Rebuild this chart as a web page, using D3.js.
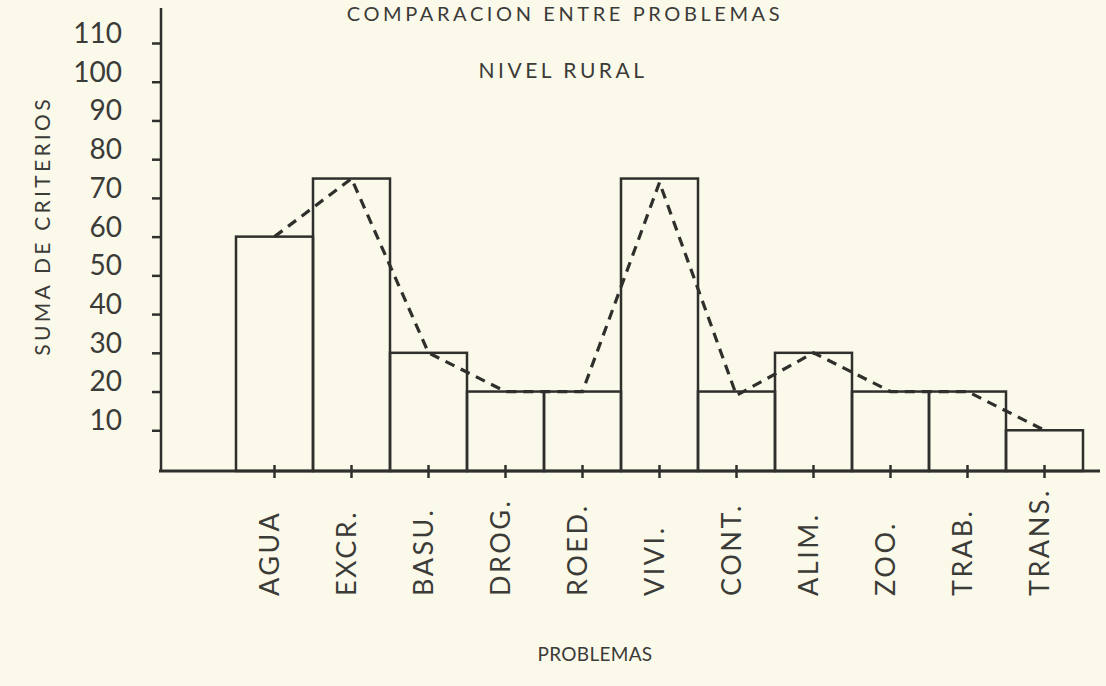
<!DOCTYPE html>
<html>
<head>
<meta charset="utf-8">
<script src="https://cdn.jsdelivr.net/npm/d3@7"></script>
<style>
  html, body { margin: 0; padding: 0; background: #fbf9ea; }
  svg { display: block; }
  text { font-family: Lato, "Open Sans", sans-serif; fill: #3b3b38; }
</style>
</head>
<body>
<svg id="chart" width="1106" height="686"></svg>
<script>
const categories = ["AGUA", "EXCR.", "BASU.", "DROG.", "ROED.", "VIVI.", "CONT.", "ALIM.", "ZOO.", "TRAB.", "TRANS."];
const barValues  = [60, 75, 30, 20, 20, 75, 20, 30, 20, 20, 10];
const lineValues = [60, 75, 30, 20, 20, 74, 19, 30, 20, 20, 10];
const yTickValues = [10, 20, 30, 40, 50, 60, 70, 80, 90, 100, 110];
const titleText = "COMPARACION ENTRE PROBLEMAS";
const subtitleText = "NIVEL RURAL";
const yTitle = "SUMA DE CRITERIOS";
const xTitle = "PROBLEMAS";

const ink = "#2f2f2c";
const svg = d3.select("#chart");

const x = d3.scaleBand().domain(categories).range([236, 1083]).padding(0);
const y = d3.scaleLinear().domain([0, 110]).range([469, 43]);

const axisX = 161, axisY = 471;

// Titles
svg.append("text").attr("x", 565).attr("y", 21).attr("text-anchor", "middle")
  .style("font-size", "20px").style("letter-spacing", "3.6px").text(titleText);
svg.append("text").attr("x", 563).attr("y", 78).attr("text-anchor", "middle")
  .style("font-size", "21px").style("letter-spacing", "3.5px").text(subtitleText);

// Y axis
const yAxis = d3.axisLeft(y).tickValues(yTickValues).tickSize(9).tickPadding(30);
const gy = svg.append("g").attr("transform", `translate(${axisX},0)`).call(yAxis);
gy.select(".domain").remove();
gy.selectAll(".tick line").attr("stroke", ink).attr("stroke-width", 2.5);
gy.selectAll(".tick text").attr("dy", "-0.02em")
  .style("font-size", "28px").style("font-family", "Lato, sans-serif").attr("fill", "#3b3b38");
svg.append("line").attr("x1", axisX).attr("x2", axisX).attr("y1", 8).attr("y2", axisY + 1)
  .attr("stroke", ink).attr("stroke-width", 2.5);

// X axis
const xAxis = d3.axisBottom(x).tickSize(0).tickFormat("");
const gx = svg.append("g").attr("transform", `translate(0,${axisY})`).call(xAxis);
gx.select(".domain").remove();
svg.append("line").attr("x1", axisX - 2).attr("x2", 1100).attr("y1", axisY).attr("y2", axisY)
  .attr("stroke", ink).attr("stroke-width", 3);
svg.append("g").selectAll("line").data(categories).join("line")
  .attr("x1", d => x(d) + x.bandwidth() / 2).attr("x2", d => x(d) + x.bandwidth() / 2)
  .attr("y1", axisY - 6).attr("y2", axisY + 7)
  .attr("stroke", ink).attr("stroke-width", 2.5);

// Bars (outlined histogram)
svg.append("g").selectAll("rect").data(categories).join("rect")
  .attr("x", d => x(d)).attr("width", x.bandwidth())
  .attr("y", (d, i) => y(barValues[i])).attr("height", (d, i) => axisY - y(barValues[i]))
  .attr("fill", "none").attr("stroke", ink).attr("stroke-width", 2.5);

// Dashed polygon line
const line = d3.line().x((d, i) => x(categories[i]) + x.bandwidth() / 2).y(d => y(d));
svg.append("path").datum(lineValues).attr("d", line)
  .attr("fill", "none").attr("stroke", ink).attr("stroke-width", 3.2)
  .attr("stroke-dasharray", "10,7");

// X tick labels (rotated)
svg.append("g").selectAll("text").data(categories).join("text")
  .attr("transform", d => `translate(${x(d) + x.bandwidth() / 2 - 5},596) rotate(-90)`)
  .attr("text-anchor", "start").attr("dy", "0.36em")
  .style("font-size", "27px").style("letter-spacing", "2.5px")
  .text(d => d);

// Axis titles
svg.append("text").attr("transform", "translate(42,226) rotate(-90)")
  .attr("text-anchor", "middle").attr("dy", "0.36em")
  .style("font-size", "21px").style("letter-spacing", "3.3px").text(yTitle);
svg.append("text").attr("x", 595).attr("y", 661).attr("text-anchor", "middle")
  .style("font-size", "19px").style("letter-spacing", "0.3px").text(xTitle);
</script>
</body>
</html>
